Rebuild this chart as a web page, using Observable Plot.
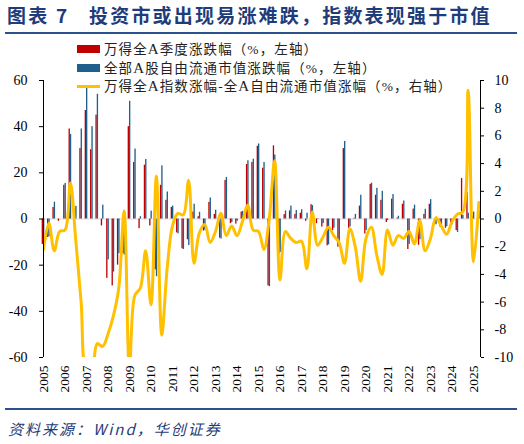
<!DOCTYPE html>
<html><head><meta charset="utf-8">
<script src="https://cdn.jsdelivr.net/npm/d3@7"></script>
<script src="https://cdn.jsdelivr.net/npm/@observablehq/plot@0.6"></script>
<style>
body{margin:0;background:#fff;}
#wrap{position:relative;width:524px;height:444px;overflow:hidden;background:#fff;}
#chart{position:absolute;left:0;top:0;}
.title{position:absolute;top:4px;font-family:"Noto Sans CJK SC",sans-serif;font-weight:bold;font-size:19px;line-height:22px;color:#1F3C7A;letter-spacing:2.2px;white-space:nowrap;}
.rule{position:absolute;left:5px;width:512px;height:2px;background:#2B528F;}
.li{position:absolute;left:77px;height:18px;line-height:18px;font-family:"Liberation Serif","Noto Sans CJK SC",serif;font-size:13.5px;color:#222;white-space:nowrap;letter-spacing:1.1px;}
.sw{position:absolute;left:0;width:23px;}
.lt{position:absolute;left:27px;top:0;}
.lt b{font-weight:normal;font-size:15px;}
#source{position:absolute;left:8px;top:419px;font-family:"Noto Sans CJK SC",sans-serif;font-style:italic;font-size:15px;line-height:20px;color:#1F3C7A;letter-spacing:2px;white-space:nowrap;}
</style></head><body>
<div id="wrap">
  <div id="chart"></div>
  <div class="title" style="left:7px">图表 7</div>
  <div class="title" style="left:89px">投资市或出现易涨难跌，指数表现强于市值</div>
  <div class="rule" style="top:32px"></div>
  <div class="li" style="top:40px"><span class="sw" style="top:5px;height:8px;background:#C00000"></span><span class="lt">万得全<b>A</b>季度涨跌幅（%，左轴）</span></div>
  <div class="li" style="top:59px"><span class="sw" style="top:5px;height:8px;background:#1F5F8D"></span><span class="lt">全部<b>A</b>股自由流通市值涨跌幅（%，左轴）</span></div>
  <div class="li" style="top:77px"><span class="sw" style="top:8px;height:3px;background:#FFC000"></span><span class="lt">万得全<b>A</b>指数涨幅-全<b>A</b>自由流通市值涨幅（%，右轴）</span></div>
  <div class="rule" style="top:408px"></div>
  <div id="source">资料来源：Wind，华创证券</div>
</div>
<script>
// quarterly data, first quarter = 2005 Q1
const startYear = 2005;
const windA = [ // 万得全A季度涨跌幅 (%)
  -11, -8, 5, -1,
  14.6, 39, 3, 30.5,
  47, 30, 45, -3,
  -25.7, -29, -20, -15,
  40, 24.5, -4.2, 23.3,
  -3, -22, 14.6, 8.1,
  5, -6, -12.9, -9,
  3, 1, -5.2, 7.2,
  2, -8.3, 16.7, -2,
  -2.2, 3, 23.6, 24.5,
  31.5, 22, -29, 31.7,
  -15.5, 1.9, 3.5, 2,
  2.5, -1, 6.2, -2,
  -3.5, -11.6, -5, -12.2,
  30.5, -4, 0.3, 5.6,
  -6.5, 15, 10.3, 8.1,
  -1.5, 8.6, 0.4, 6.4,
  -13.2, 4.3, -11.4, 2,
  6.4, -2, -3.5, -4,
  -3, -5, 17.5, 11.6,
  1, 2
];
const freeFloat = [ // 全部A股自由流通市值涨跌幅 (%)
  -9, -7.7, 7.3, 0,
  15.4, 36.6, 5.5, 39,
  57, 40, 54, 6,
  -17.7, -23, -15, -15.6,
  51, 30.3, 1, 25.8,
  3.4, -25, 23, 11.7,
  5.6, -6.4, -13.2, -11.5,
  6.4, 2.9, -4.8, 9.1,
  3.8, -8.7, 18, -1.5,
  -1, 3.3, 25.2, 25.9,
  32.5, 24.5, -29.3, 27.7,
  -14.5, 3.5, 5.6, 3.7,
  4, 2.5, 5.8, 0.2,
  -2, -11.2, -4, -10.5,
  33.6, -3.4, 2, 10.3,
  -5, 15.5, 13.3, 12,
  -0.6, 10.6, 1.2, 7.8,
  -11, 6, -9, 4.2,
  8.4, -2.5, -2.5, -3.3,
  -2.5, -5.8, 1.6, 2.5,
  3, 3.5
];
const spread = [ // 万得全A指数涨幅-全A自由流通市值涨幅 (%, right axis)
  -2.2, -0.3, -2.3, -0.9,
  -0.8, 2.6, -1.5, -6,
  -11, -10.8, -9, -9.2,
  -8.3, -7, -5, 0.6,
  -11, -5.5, -5, -2.3,
  -6.2, 3.1, -8.4, -3.6,
  -0.5, 0.4, 0.3, 2.8,
  -3.2, -1, -0.4, -1.7,
  -0.9, 0.4, -1.2, -0.5,
  -1.2, -0.2, 1, -0.8,
  -0.9, -2.2, 0, 4.2,
  -4.4, -0.9, -1.4, -1.7,
  -1.6, -3.6, 0.5, -1.9,
  -1.3, -0.6, -1.2, -1.7,
  -3.2, -0.7, -2, -4.5,
  -1.4, -0.6, -2.6, -4,
  -0.8, -1.9, -1.2, -1.4,
  -0.9, -1.8, -0.1, -2.3,
  -1.4, 0.1, -0.5, -1.1,
  -0.2, 0.35, 0.5, 9.3,
  -3.1, 1.2
];
const yearTicks = [2005,2006,2007,2008,2009,2010,2011,2012,2013,2014,2015,2016,2017,2018,2019,2020,2021,2022,2023,2024,2025];
const leftTicks = [-60,-40,-20,0,20,40,60];
const rightTicks = [-10,-8,-6,-4,-2,0,2,4,6,8,10];
const axisRatio = 6; // left units per right-axis unit

const rows = windA.map((v, i) => ({t: startYear + i / 4, red: v, blue: freeFloat[i], diff: spread[i]}));
const xMax = 2025.326;
const bw = 0.062;

const chart = Plot.plot({
  width: 524, height: 444,
  marginLeft: 43, marginRight: 44, marginTop: 80, marginBottom: 87,
  x: {domain: [startYear, xMax], label: null},
  y: {domain: [-60, 60], label: null},
  style: {fontFamily: "'Liberation Serif', serif", fontSize: "14px", color: "#000", background: "transparent", overflow: "visible"},
  marks: [
    Plot.ruleY([0], {stroke: "#d9d9d9", strokeWidth: 1}),
    Plot.rect(rows, {x1: d => d.t - bw, x2: d => d.t, y1: d => 0, y2: "red", fill: "#C00000"}),
    Plot.rect(rows, {x1: d => d.t, x2: d => d.t + bw, y1: d => 0, y2: "blue", fill: "#1F5F8D"}),
    Plot.line(rows, {x: "t", y: d => d.diff * axisRatio, stroke: "#FFC000", strokeWidth: 3, curve: "catmull-rom", clip: true}),
    Plot.ruleX([startYear], {y1: -60, y2: 60, stroke: "#000"}),
    Plot.ruleX([xMax], {y1: -60, y2: 60, stroke: "#000"}),
    Plot.axisY(leftTicks, {anchor: "left", tickSize: 4, tickPadding: 12, tickFormat: d => String(d), fontSize: 14, label: null}),
    Plot.axisY(rightTicks.map(v => v * axisRatio), {anchor: "right", tickSize: 3, tickPadding: 11, tickFormat: d => String(Math.round(d / axisRatio)), fontSize: 14, label: null}),
    Plot.axisX(yearTicks, {anchor: "bottom", tickSize: 0, tickPadding: 8, tickRotate: -90, tickFormat: d => String(d), fontSize: 13.5, label: null})
  ]
});
document.getElementById("chart").appendChild(chart);
</script>
</body></html>
